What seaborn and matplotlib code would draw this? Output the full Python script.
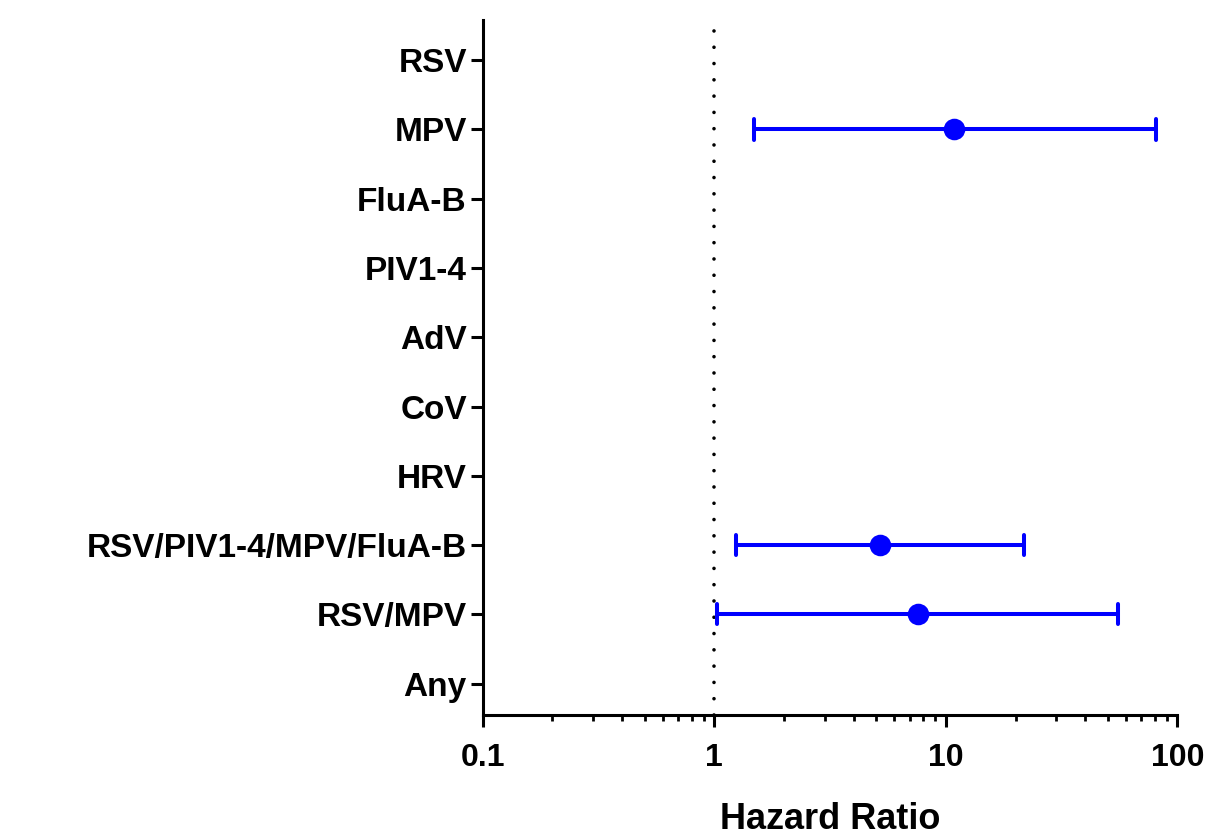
import matplotlib
matplotlib.use('Agg')
import matplotlib.pyplot as plt
import matplotlib.ticker as mticker
import numpy as np
import pandas as pd
import seaborn as sns

sns.set_theme(style='ticks')
plt.rcParams['font.family'] = ['Liberation Sans', 'DejaVu Sans']
plt.rcParams['font.weight'] = 'bold'

# Categories top to bottom
categories = ['RSV', 'MPV', 'FluA-B', 'PIV1-4', 'AdV', 'CoV', 'HRV',
              'RSV/PIV1-4/MPV/FluA-B', 'RSV/MPV', 'Any']

# Only three rows have an estimate
est_labels = ['MPV', 'RSV/PIV1-4/MPV/FluA-B', 'RSV/MPV']
hazard_ratio = [10.9, 5.18, 7.57]
ci_lower = [1.49, 1.24, 1.03]
ci_upper = [81.1, 21.8, 55.6]

x_ticks = [0.1, 1, 10, 100]
x_tick_labels = ['0.1', '1', '10', '100']

BLUE = '#0000ff'

# long form: lower / estimate / upper per category -> median + min/max interval
rows = []
for lab, lo, hr, hi in zip(est_labels, ci_lower, hazard_ratio, ci_upper):
    for v in (lo, hr, hi):
        rows.append({'group': lab, 'hr': v})
df = pd.DataFrame(rows)

fig, ax = plt.subplots(figsize=(12.1, 8.35), dpi=100)
fig.subplots_adjust(left=0.399, right=0.973, bottom=0.144, top=0.976)

ax.set_xscale('log')
sns.pointplot(
    data=df, x='hr', y='group', order=categories,
    estimator='median', errorbar=lambda v: (v.min(), v.max()),
    color=BLUE, linestyle='none', markersize=13.5,
    capsize=0.29, err_kws={'linewidth': 2.9},
    ax=ax,
)

ax.axvline(1, color='black', linestyle=(0, (0.01, 4.5)), linewidth=2.6,
           dash_capstyle='round', zorder=0)

ax.set_xlim(0.1, 100)
ax.set_ylim(9.45, -0.58)
ax.xaxis.set_major_locator(mticker.FixedLocator(x_ticks))
ax.xaxis.set_major_formatter(mticker.FixedFormatter(x_tick_labels))
ax.xaxis.set_minor_locator(mticker.LogLocator(base=10, subs=np.arange(2, 10)))
ax.xaxis.set_minor_formatter(mticker.NullFormatter())

for side in ('top', 'right'):
    ax.spines[side].set_visible(False)
for side in ('left', 'bottom'):
    ax.spines[side].set_linewidth(2.2)
    ax.spines[side].set_color('black')

ax.tick_params(axis='both', which='major', length=8.5, width=2.2,
               color='black', labelcolor='black')
ax.tick_params(axis='y', which='major', labelsize=24, pad=3)
ax.tick_params(axis='x', which='major', labelsize=23, pad=12)
ax.tick_params(axis='x', which='minor', length=4.5, width=2.0, color='black')
for t in ax.get_xticklabels() + ax.get_yticklabels():
    t.set_fontweight('bold')

ax.set_ylabel('')
ax.set_xlabel('Hazard Ratio', fontsize=26, fontweight='bold', color='black',
              labelpad=21)
ax.grid(False)

fig.savefig('out.png', dpi=100, facecolor='white')
